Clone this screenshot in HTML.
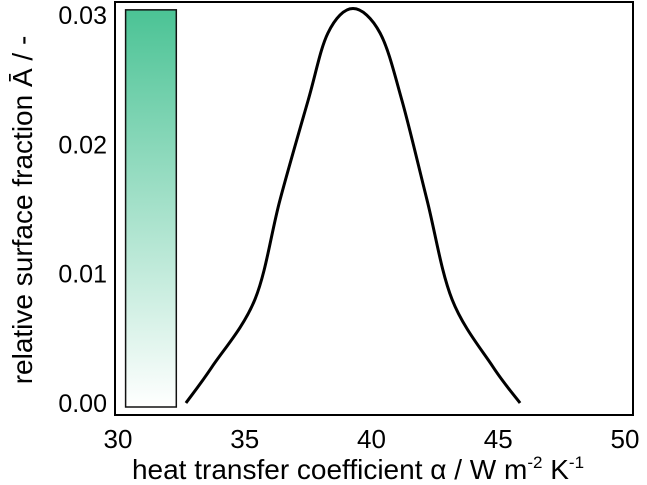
<!DOCTYPE html>
<html><head><meta charset="utf-8"><style>
html,body{margin:0;padding:0;background:#fff;}
svg{display:block;font-family:"Liberation Sans",Arial,sans-serif;}
</style></head><body>
<svg id="chart" width="647" height="485" viewBox="0 0 647 485">
<defs><linearGradient id="g" x1="0" y1="1" x2="0" y2="0"><stop offset="0" stop-color="#ffffff"/><stop offset="1" stop-color="#4bc395"/></linearGradient></defs>
<g id="axes"></g>
<g id="marks"></g>
</svg>
<script>
const xTicks=[30,35,40,45,50];
const yTicks=[0,0.01,0.02,0.03];
const yTickLabels=["0.00","0.01","0.02","0.03"];
const curveX=[32.68,33.71,35.40,36.39,37.50,38.28,39.27,40.34,41.20,42.19,43.18,44.79,45.86];
const curveY=[0.0,0.0028,0.0080,0.0157,0.0234,0.0286,0.0305,0.0286,0.0234,0.0157,0.0080,0.0028,0.0];
const barRange=[30.3,32.3];
const barMax=0.0304;
const NS="http://www.w3.org/2000/svg";
const xs=v=>118+(v-30)*25.35;
const ys=v=>403-v*12933;
function mk(t,a,p){const e=document.createElementNS(NS,t);for(const k in a)e.setAttribute(k,a[k]);p.appendChild(e);return e;}
const ax=document.getElementById('axes'),mg=document.getElementById('marks');
const fr=mk('rect',{x:115,y:2,width:518,height:413,fill:'none',stroke:'#000','stroke-width':2},ax);

xTicks.forEach(v=>{const t=mk('text',{x:xs(v),y:448,'text-anchor':'middle','font-size':26},ax);t.textContent=v;
});
yTicks.forEach((v,i)=>{const t=mk('text',{x:107,y:ys(v)+9,'text-anchor':'end','font-size':25},ax);t.textContent=yTickLabels[i];
});
const xt=mk('text',{x:358,y:479,'text-anchor':'middle','font-size':28},ax);
xt.innerHTML='heat transfer coefficient α / W m<tspan dy="-11" font-size="17">-2</tspan><tspan dy="11"> K</tspan><tspan dy="-11" font-size="17">-1</tspan>';

const yt=mk('text',{x:0,y:0,'text-anchor':'middle','font-size':28,transform:'translate(32,210) rotate(-90)'},ax);
yt.textContent='relative surface fraction Ā / -';

const b=mk('rect',{x:xs(barRange[0]),y:ys(barMax),width:xs(barRange[1])-xs(barRange[0]),height:ys(0)+4-ys(barMax),fill:'url(#g)',stroke:'#111','stroke-width':1.5},mg);

const P=curveX.map((x,i)=>[xs(x),ys(curveY[i])]);
let d='M'+P[0][0]+','+P[0][1];
for(let i=0;i<P.length-1;i++){const p0=P[Math.max(0,i-1)],p1=P[i],p2=P[i+1],p3=P[Math.min(P.length-1,i+2)];
d+=' C'+(p1[0]+(p2[0]-p0[0])/6)+','+(p1[1]+(p2[1]-p0[1])/6)+' '+(p2[0]-(p3[0]-p1[0])/6)+','+(p2[1]-(p3[1]-p1[1])/6)+' '+p2[0]+','+p2[1];}
const c=mk('path',{d:d,fill:'none',stroke:'#000','stroke-width':3,'stroke-linejoin':'round'},mg);

</script>
</body></html>
